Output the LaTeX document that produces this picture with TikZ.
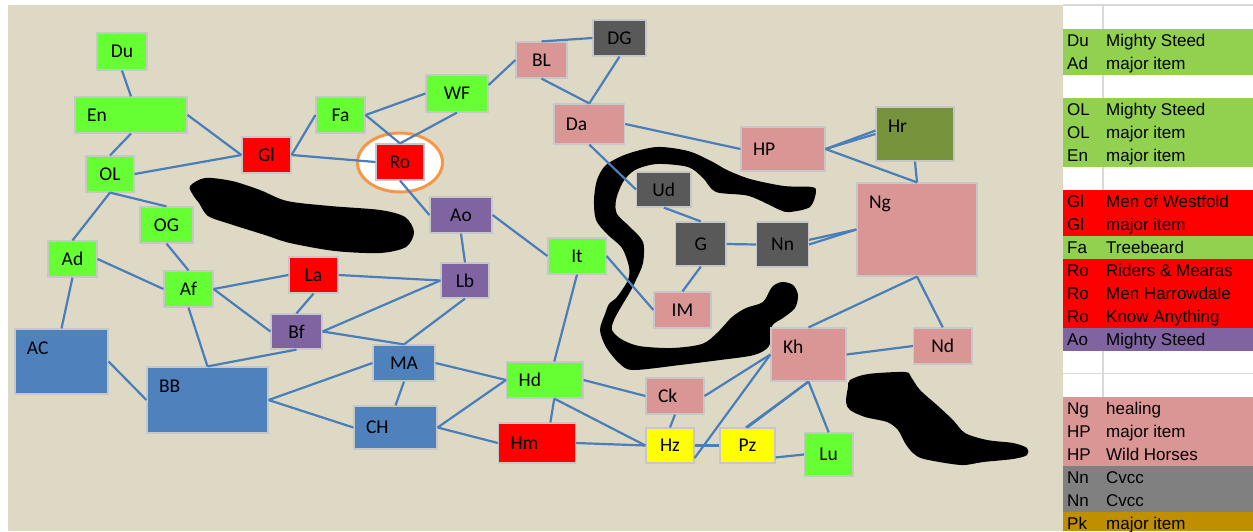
\documentclass[tikz,border=0pt]{standalone}
\usepackage{fontspec}
\newfontfamily\nodefont{Carlito}
\newfontfamily\legfont{Liberation Sans}
\definecolor{mapBg}{HTML}{DDD9C4}
\definecolor{rmGreen}{HTML}{66FF33}
\definecolor{rmRed}{HTML}{FF0000}
\definecolor{rmPlum}{HTML}{8064A2}
\definecolor{rmBlue}{HTML}{4F81BD}
\definecolor{rmRose}{HTML}{D99694}
\definecolor{rmSlate}{HTML}{595959}
\definecolor{rmOlive}{HTML}{77933C}
\definecolor{rmSun}{HTML}{FFFF00}
\definecolor{rmLink}{HTML}{4A7EBB}
\definecolor{rmRing}{HTML}{F79646}
\definecolor{lgGreen}{HTML}{92D050}
\definecolor{lgRose}{HTML}{DA9694}
\definecolor{lgGray}{HTML}{808080}
\definecolor{lgGold}{HTML}{BF8F00}
\definecolor{lgGrid}{HTML}{D9D9D9}
\begin{document}
\begin{tikzpicture}[x=1pt, y=-1pt,
  room/.style={draw=black!22, line width=1.2pt, inner xsep=12pt, inner ysep=0pt, font=\nodefont\fontsize{19.5}{20}\selectfont},
  lft/.style={align=left, text width=#1},
  tl/.style 2 args={align=left, text width=#1, text height=25.5pt, text depth=#2},
  lnk/.style={draw=rmLink, line width=2.2pt},
  leg/.style={anchor=base west, inner sep=0pt, font=\legfont\fontsize{17}{18}\selectfont}]
\useasboundingbox (0,0) rectangle (1253,531);
\fill[mapBg] (8,5) rectangle (1063,531);
\fill[black] plot[smooth cycle, tension=0.5] coordinates {(190,186) (205,178) (232,181) (260,190) (287,201) (330,206) (380,210) (405,217) (414,232) (406,247) (380,253) (335,251) (290,243) (265,235) (230,224) (208,216) (199,203) (193,195)};
\fill[black] plot[smooth cycle, tension=0.5] coordinates {(816,192) (812,187) (784,186) (750,179) (727,170) (711,161) (688,151) (657,147) (627,154) (606,165) (597,180) (594,200) (596,220) (607,234) (622,248) (629,267) (628,280) (617,297) (609,304) (605,314) (600,330) (606,347) (619,363) (633,370) (680,365) (720,360) (754,355) (769,346) (772,326) (783,318) (795,308) (798,295) (793,285) (782,282) (772,287) (763,302) (746,308) (732,317) (717,333) (702,344) (672,348) (639,346) (621,339) (612,330) (614,320) (621,307) (630,292) (636,280) (643,263) (643,242) (630,227) (617,214) (616,200) (623,182) (635,170) (657,164) (688,167) (703,178) (716,192) (749,196) (780,210) (790,212) (810,207)};
\fill[black] plot[smooth cycle, tension=0.5] coordinates {(850,380) (868,374) (905,372) (911,377) (920,390) (938,406) (953,420) (965,433) (987,440) (1013,443) (1027,448) (1027,455) (1013,459) (983,462) (961,465) (924,459) (913,453) (905,443) (898,430) (887,422) (865,417) (850,410) (846,402) (848,387)};
\draw[draw=rmRing, line width=3pt, fill=white] (400,162.5) ellipse [x radius=42.5pt, y radius=29.5pt];
\node[room, fill=rmGreen, minimum width=50pt, minimum height=37pt] (Du) at (122,51.5) {Du};
\node[room, fill=rmGreen, lft=88pt, minimum height=36pt] (En) at (131,115) {En};
\node[room, fill=rmGreen, minimum width=48pt, minimum height=36pt] (OL) at (110,174) {OL};
\node[room, fill=rmGreen, minimum width=53pt, minimum height=36pt] (OG) at (166.5,225) {OG};
\node[room, fill=rmGreen, minimum width=49pt, minimum height=36pt] (Ad) at (72.5,259) {Ad};
\node[room, fill=rmGreen, minimum width=49pt, minimum height=36pt] (Af) at (188.5,289) {Af};
\node[room, fill=rmRed, minimum width=49pt, minimum height=36pt] (Gl) at (266.5,155) {Gl};
\node[room, fill=rmGreen, minimum width=49pt, minimum height=36pt] (Fa) at (340.5,115) {Fa};
\node[room, fill=rmRed, minimum width=48pt, minimum height=36pt] (Ro) at (400,162) {Ro};
\node[room, fill=rmGreen, minimum width=62pt, minimum height=37pt] (WF) at (457,93.5) {WF};
\node[room, fill=rmRose, minimum width=51pt, minimum height=36pt] (BL) at (541.5,60) {BL};
\node[room, fill=rmSlate, minimum width=53pt, minimum height=36pt] (DG) at (619.5,38) {DG};
\node[room, fill=rmRose, lft=46.7pt, minimum height=40pt] (Da) at (589.3,124) {Da};
\node[room, fill=rmRose, lft=60pt, minimum height=44pt] (HP) at (783,149) {HP};
\node[room, fill=rmOlive, tl={54pt}{28.5pt}] (Hr) at (915,134) {Hr};
\node[room, fill=rmRose, tl={96pt}{67.5pt}] (Ng) at (917,229.5) {Ng};
\node[room, fill=rmSlate, minimum width=54.4pt, minimum height=35pt] (Ud) at (663.8,189.5) {Ud};
\node[room, fill=rmSlate, minimum width=50.4pt, minimum height=44pt] (G) at (700.8,244) {G};
\node[room, fill=rmSlate, minimum width=51.6pt, minimum height=45pt] (Nn) at (782.6,244.5) {Nn};
\node[room, fill=rmPlum, minimum width=62pt, minimum height=36pt] (Ao) at (461,215) {Ao};
\node[room, fill=rmRed, minimum width=49pt, minimum height=36pt] (La) at (313.5,275) {La};
\node[room, fill=rmPlum, minimum width=48pt, minimum height=35pt] (Lb) at (465,280.5) {Lb};
\node[room, fill=rmPlum, minimum width=51pt, minimum height=35pt] (Bf) at (296.5,331.5) {Bf};
\node[room, fill=rmGreen, minimum width=58pt, minimum height=36pt] (It) at (577,256) {It};
\node[room, fill=rmRose, minimum width=57pt, minimum height=36pt] (IM) at (682.5,310) {IM};
\node[room, fill=rmBlue, tl={69pt}{39.5pt}] (AC) at (61.5,361.5) {AC};
\node[room, fill=rmBlue, tl={97pt}{40.5pt}] (BB) at (207.5,400) {BB};
\node[room, fill=rmBlue, minimum width=62pt, minimum height=36pt] (MA) at (404,363) {MA};
\node[room, fill=rmBlue, lft=59pt, minimum height=43pt] (CH) at (395.5,427.5) {CH};
\node[room, fill=rmGreen, lft=52.4pt, minimum height=36pt] (Hd) at (544.8,380) {Hd};
\node[room, fill=rmRed, lft=53pt, minimum height=40pt] (Hm) at (537,443) {Hm};
\node[room, fill=rmRose, lft=34pt, minimum height=36pt] (Ck) at (675,396) {Ck};
\node[room, fill=rmSun, minimum width=48pt, minimum height=35pt] (Hz) at (670,445.5) {Hz};
\node[room, fill=rmSun, minimum width=55pt, minimum height=35pt] (Pz) at (747.5,445.5) {Pz};
\node[room, fill=rmRose, tl={51pt}{27.5pt}] (Kh) at (808.5,354.5) {Kh};
\node[room, fill=rmRose, minimum width=58.4pt, minimum height=36pt] (Nd) at (942.8,346) {Nd};
\node[room, fill=rmGreen, minimum width=48.5pt, minimum height=43pt] (Lu) at (828.7,454.5) {Lu};
\draw[lnk](Du.south) -- (En.north);
\draw[lnk](En.south) -- (OL.north);
\draw[lnk](En.east) -- (Gl.west);
\draw[lnk](OL.east) -- (Gl.west);
\draw[lnk](OL.south) -- (Ad.north);
\draw[lnk](OL.south) -- (OG.north);
\draw[lnk](Gl.east) -- (Fa.west);
\draw[lnk](Gl.east) -- (Ro.west);
\draw[lnk](Fa.east) -- (WF.west);
\draw[lnk](Fa.east) -- (Ro.north);
\draw[lnk](Ro.north) -- (WF.south);
\draw[lnk](WF.15) -- (BL.west);
\draw[lnk](BL.north) -- (DG.west);
\draw[lnk](BL.south) -- (Da.north);
\draw[lnk](DG.south) -- (Da.north);
\draw[lnk](Da.east) -- (HP.west);
\draw[lnk](Da.south) -- (Ud.west);
\draw[lnk](HP.east) -- (Hr.west);
\draw[lnk](HP.east) -- (Hr.175);
\draw[lnk](HP.east) -- (Ng.north);
\draw[lnk](Hr.south) -- (Ng.north);
\draw[lnk](Ud.south) -- (G.north);
\draw[lnk](G.east) -- (Nn.west);
\draw[lnk](Nn.east) -- (Ng.west);
\draw[lnk](Nn.10) -- (Ng.west);
\draw[lnk](G.south) -- (IM.north);
\draw[lnk](Ro.south) -- (Ao.west);
\draw[lnk](Ao.south) -- (Lb.north);
\draw[lnk](Ao.east) -- (It.west);
\draw[lnk](It.east) -- (IM.west);
\draw[lnk](It.south) -- (Hd.63);
\draw[lnk](Ad.east) -- (Af.west);
\draw[lnk](Ad.south) -- (AC.north);
\draw[lnk](OG.south) -- (Af.north);
\draw[lnk](Af.east) -- (La.west);
\draw[lnk](Af.east) -- (Bf.west);
\draw[lnk](Af.south) -- (BB.north);
\draw[lnk](La.east) -- (Lb.west);
\draw[lnk](La.south) -- (Bf.north);
\draw[lnk](Bf.east) -- (Lb.west);
\draw[lnk](Bf.east) -- (MA.north);
\draw[lnk](Bf.south) -- (BB.north);
\draw[lnk](Lb.south) -- (MA.north);
\draw[lnk](AC.east) -- (BB.west);
\draw[lnk](BB.east) -- (MA.west);
\draw[lnk](BB.east) -- (CH.west);
\draw[lnk](MA.south) -- (CH.north);
\draw[lnk](MA.east) -- (Hd.west);
\draw[lnk](CH.east) -- (Hd.west);
\draw[lnk](CH.east) -- (Hm.west);
\draw[lnk](Hd.east) -- (Ck.west);
\draw[lnk](Hd.-63) -- (Hm.57);
\draw[lnk](Hd.-63) -- (Hz.west);
\draw[lnk](Hm.east) -- (Hz.west);
\draw[lnk](Ck.south) -- (Hz.north);
\draw[lnk](Ck.east) -- (Kh.west);
\draw[lnk](Hz.-27) -- (Kh.west);
\draw[lnk](Hz.east) -- (Pz.west);
\draw[lnk](Pz.north) -- (Kh.south);
\draw[lnk](Pz.95) -- (Kh.south);
\draw[lnk](Kh.south) -- (Lu.north);
\draw[lnk](Pz.-23) -- (Lu.west);
\draw[lnk](Kh.east) -- (Nd.west);
\draw[lnk](Kh.north) -- (Ng.south);
\draw[lnk](Ng.south) -- (Nd.north);
\fill[white] (1063,5) rectangle (1253,531);
\fill[lgGreen] (1063,28.5) rectangle (1253,74.5);
\fill[lgGreen] (1063,97.5) rectangle (1253,166.5);
\fill[rmRed] (1063,189.5) rectangle (1253,235.5);
\fill[lgGreen] (1063,235.5) rectangle (1253,258.5);
\fill[rmRed] (1063,258.5) rectangle (1253,327.5);
\fill[rmPlum] (1063,327.5) rectangle (1253,350.5);
\fill[lgRose] (1063,396.5) rectangle (1253,465.5);
\fill[lgGray] (1063,465.5) rectangle (1253,511.5);
\fill[lgGold] (1063,511.5) rectangle (1253,531);
\draw[lgGrid, line width=1.5pt] (1063,5) -- (1253,5);
\draw[lgGrid, line width=1.5pt] (1063,373.5) -- (1253,373.5);
\draw[lgGrid, line width=1.5pt] (1103,5) -- (1103,28.5);
\draw[lgGrid, line width=1.5pt] (1103,74.5) -- (1103,97.5);
\draw[lgGrid, line width=1.5pt] (1103,166.5) -- (1103,189.5);
\draw[lgGrid, line width=1.5pt] (1103,350.5) -- (1103,396.5);
\node[leg] (lg1) at (1067,46) {\makebox[39pt][l]{Du}Mighty Steed};
\node[leg] (lg2) at (1067,69) {\makebox[39pt][l]{Ad}major item};
\node[leg] (lg4) at (1067,115) {\makebox[39pt][l]{OL}Mighty Steed};
\node[leg] (lg5) at (1067,138) {\makebox[39pt][l]{OL}major item};
\node[leg] (lg6) at (1067,161) {\makebox[39pt][l]{En}major item};
\node[leg] (lg8) at (1067,207) {\makebox[39pt][l]{Gl}Men of Westfold};
\node[leg] (lg9) at (1067,230) {\makebox[39pt][l]{Gl}major item};
\node[leg] (lg10) at (1067,253) {\makebox[39pt][l]{Fa}Treebeard};
\node[leg] (lg11) at (1067,276) {\makebox[39pt][l]{Ro}Riders \& Mearas};
\node[leg] (lg12) at (1067,299) {\makebox[39pt][l]{Ro}Men Harrowdale};
\node[leg] (lg13) at (1067,322) {\makebox[39pt][l]{Ro}Know Anything};
\node[leg] (lg14) at (1067,345) {\makebox[39pt][l]{Ao}Mighty Steed};
\node[leg] (lg17) at (1067,414) {\makebox[39pt][l]{Ng}healing};
\node[leg] (lg18) at (1067,437) {\makebox[39pt][l]{HP}major item};
\node[leg] (lg19) at (1067,460) {\makebox[39pt][l]{HP}Wild Horses};
\node[leg] (lg20) at (1067,483) {\makebox[39pt][l]{Nn}Cvcc};
\node[leg] (lg21) at (1067,506) {\makebox[39pt][l]{Nn}Cvcc};
\node[leg] (lg22) at (1067,529) {\makebox[39pt][l]{Pk}major item};
\end{tikzpicture}
\end{document}
